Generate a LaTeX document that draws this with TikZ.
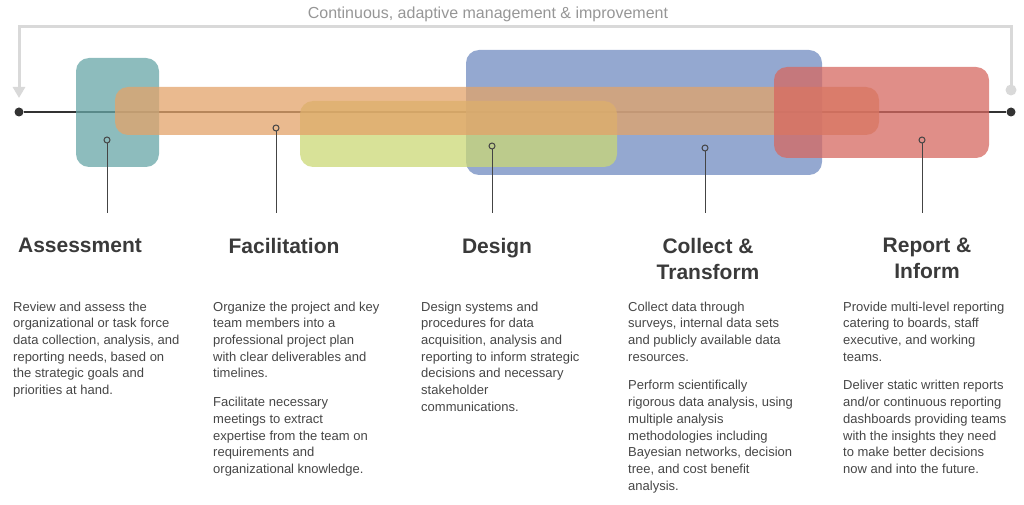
\documentclass[tikz,border=0pt]{standalone}
\usepackage{fontspec}
\setmainfont{Liberation Sans}
\usetikzlibrary{arrows.meta, positioning}
\definecolor{tealbox}{RGB}{103,166,167}
\definecolor{orangebox}{RGB}{227,163,105}
\definecolor{greenbox}{RGB}{203,216,118}
\definecolor{bluebox}{RGB}{112,139,192}
\definecolor{redbox}{RGB}{214,104,96}
\definecolor{loopgray}{RGB}{217,217,217}
\definecolor{captiongray}{RGB}{150,150,150}
\definecolor{linegray}{RGB}{51,51,51}
\definecolor{markgray}{RGB}{68,68,68}
\definecolor{titlegray}{RGB}{58,58,58}
\definecolor{textgray}{RGB}{70,70,70}
\tikzstyle{block} = [
  rectangle,
  rounded corners=13pt,
  inner sep=0,
  draw=none,
  fill opacity=0.75
]
\tikzstyle{title} = [
  anchor=north,
  inner sep=0,
  align=center,
  text=titlegray,
  font=\fontsize{21}{26}\selectfont\bfseries
]
\tikzstyle{blurb} = [
  anchor=north west,
  inner sep=0,
  align=left,
  text=textgray,
  font=\fontsize{13}{16.7}\selectfont
]
\tikzstyle{marker} = [
  circle,
  draw=markgray,
  line width=1pt,
  inner sep=0,
  minimum size=6pt
]
\tikzstyle{stem} = [
  draw=markgray,
  line width=1pt
]
\tikzstyle{endpoint} = [
  circle,
  fill=linegray,
  inner sep=0,
  minimum size=9pt
]
\tikzstyle{timeline} = [
  linegray,
  line width=2pt
]
\tikzstyle{loopline} = [
  loopgray,
  line width=3pt,
  -{Triangle[width=12pt,length=11pt]}
]

\begin{document}
\begin{tikzpicture}[x=1pt, y=-1pt]
      \useasboundingbox (0,0) rectangle (1024,505);

      % feedback loop
      \node [text=captiongray, font=\fontsize{16}{19}\selectfont, inner sep=0] (caption) at (488,14) {Continuous, adaptive management \& improvement};
      \node [circle, fill=loopgray, inner sep=0, minimum size=11pt] (loopend) at (1011,90) {};
      \coordinate (looptip) at (19,98);
      \draw [loopline] (loopend.center) -- ++(0,-63) -| (looptip);

      % time line
      \node [endpoint] (startdot) at (19,112) {};
      \node [endpoint] (enddot) at (1011,112) {};
      \draw [timeline] (startdot) -- (enddot);

      % phases
      \node [block, fill=bluebox, minimum width=356pt, minimum height=125pt] (collectbox) at (644,112.5) {};
      \node [block, fill=tealbox, minimum width=83pt, minimum height=109pt] (assessbox) at (117.5,112.5) {};
      \node [block, fill=greenbox, minimum width=317pt, minimum height=66pt] (designbox) at (458.5,134) {};
      \node [block, fill=orangebox, minimum width=764pt, minimum height=48pt] (facilbox) at (497,111) {};
      \node [block, fill=redbox, minimum width=215pt, minimum height=91pt] (reportbox) at (881.5,112.5) {};

      % markers
      \node [marker] (assessdot) at (107,140) {};
      \node [marker] (facildot) at (276,128) {};
      \node [marker] (designdot) at (492,146) {};
      \node [marker] (collectdot) at (705,148) {};
      \node [marker] (reportdot) at (922,140) {};
      \coordinate (assessend) at (107,213);
      \coordinate (facilend) at (276,213);
      \coordinate (designend) at (492,213);
      \coordinate (collectend) at (705,213);
      \coordinate (reportend) at (922,213);
      \draw [stem] (assessdot) -- (assessend);
      \draw [stem] (facildot) -- (facilend);
      \draw [stem] (designdot) -- (designend);
      \draw [stem] (collectdot) -- (collectend);
      \draw [stem] (reportdot) -- (reportend);

      % titles
      \node [title] (assess) at (80,238) {Assessment};
      \node [title] (facil) at (284,238) {Facilitation};
      \node [title] (design) at (497,238) {Design};
      \node [title] (collect) at (708,238) {Collect \&\\Transform};
      \node [title] (report) at (927,238) {Report \&\\Inform};

      % descriptions
      \node [blurb] (assesstxt) at (13,301.5) {Review and assess the\\organizational or task force\\data collection, analysis, and\\reporting needs, based on\\the strategic goals and\\priorities at hand.};
      \node [blurb] (faciltxt) at (213,301.5) {Organize the project and key\\team members into a\\professional project plan\\with clear deliverables and\\timelines.\\[12pt]Facilitate necessary\\meetings to extract\\expertise from the team on\\requirements and\\organizational knowledge.};
      \node [blurb] (designtxt) at (421,301.5) {Design systems and\\procedures for data\\acquisition, analysis and\\reporting to inform strategic\\decisions and necessary\\stakeholder\\communications.};
      \node [blurb] (collecttxt) at (628,301.5) {Collect data through\\surveys, internal data sets\\and publicly available data\\resources.\\[12pt]Perform scientifically\\rigorous data analysis, using\\multiple analysis\\methodologies including\\Bayesian networks, decision\\tree, and cost benefit\\analysis.};
      \node [blurb] (reporttxt) at (843,301.5) {Provide multi-level reporting\\catering to boards, staff\\executive, and working\\teams.\\[12pt]Deliver static written reports\\and/or continuous reporting\\dashboards providing teams\\with the insights they need\\to make better decisions\\now and into the future.};

    \end{tikzpicture}
\end{document}
